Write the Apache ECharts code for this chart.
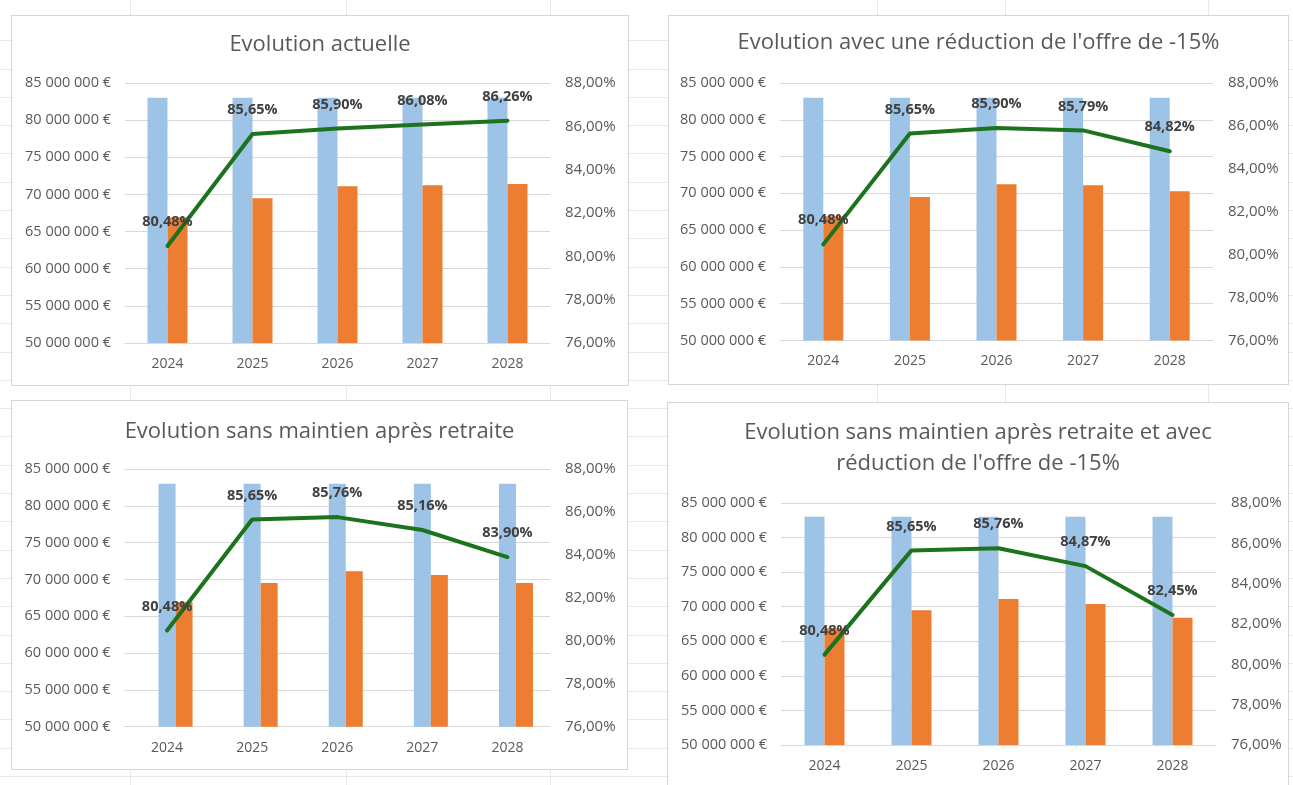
<!DOCTYPE html>
<html>
<head>
<meta charset="utf-8">
<script src="https://cdn.jsdelivr.net/npm/echarts@6/dist/echarts.min.js"></script>
<style>
html,body{margin:0;padding:0;width:1293px;height:785px;overflow:hidden;background:#fff;}
.sheet{position:absolute;left:0;top:0;width:1293px;height:785px;
  background-image:repeating-linear-gradient(to bottom, transparent 0px, transparent 27.3px, #e8e8e8 27.3px, #e8e8e8 28.3px);
  background-position:0 13px;}
.col{position:absolute;top:0;width:1px;height:785px;background:#e8e8e8;}
.frame{position:absolute;border:1px solid #d5d5d5;background:#fff;box-sizing:border-box;}
.frame>div{position:absolute;left:0;top:0;right:0;bottom:0;}
</style>
</head>
<body>
<div class="sheet"></div>
<div class="col" style="left:130px"></div>
<div class="col" style="left:346px"></div>
<div class="col" style="left:550px"></div>
<div class="col" style="left:877px"></div>
<div class="col" style="left:1005px"></div>
<div class="col" style="left:1208px"></div>

<div class="frame" style="left:11px;top:15px;width:618px;height:371px"><div id="c1"></div></div>
<div class="frame" style="left:668px;top:15px;width:621px;height:370px"><div id="c2"></div></div>
<div class="frame" style="left:11px;top:400px;width:617px;height:370px"><div id="c3"></div></div>
<div class="frame" style="left:667px;top:402px;width:622px;height:390px"><div id="c4"></div></div>

<script>
// ---- data ----
const years = ['2024', '2025', '2026', '2027', '2028'];

const titleA = 'Evolution actuelle';
const titleB = "Evolution avec une réduction de l'offre de -15%";
const titleC = 'Evolution sans maintien après retraite';
const titleD = "Evolution sans maintien après retraite et avec\nréduction de l'offre de -15%";

const bleuA = [83000000, 83000000, 83000000, 83000000, 83000000];
const orangeA = [66900000, 69500000, 71100000, 71250000, 71400000];
const tauxA = [80.48, 85.65, 85.90, 86.08, 86.26];

const bleuB = [83000000, 83000000, 83000000, 83000000, 83000000];
const orangeB = [66900000, 69500000, 71250000, 71100000, 70300000];
const tauxB = [80.48, 85.65, 85.90, 85.79, 84.82];

const bleuC = [83000000, 83000000, 83000000, 83000000, 83000000];
const orangeC = [66900000, 69500000, 71100000, 70600000, 69500000];
const tauxC = [80.48, 85.65, 85.76, 85.16, 83.90];

const bleuD = [83000000, 83000000, 83000000, 83000000, 83000000];
const orangeD = [66900000, 69500000, 71100000, 70400000, 68400000];
const tauxD = [80.48, 85.65, 85.76, 84.87, 82.45];

const EUR_MIN = 50000000, EUR_MAX = 85000000, EUR_STEP = 5000000;
const PCT_MIN = 76, PCT_MAX = 88, PCT_STEP = 2;

// ---- styling ----
const FONT = 'Open Sans';
const BLUE = '#9DC3E6';
const ORANGE = '#ED7D31';
const GREEN = '#1D731D';
const TXT = '#595959';
const GRID = '#D9D9D9';

function fmtEur(v) {
  return String(Math.round(v)).replace(/\B(?=(\d{3})+(?!\d))/g, ' ') + ' €';
}
function fmtPct(v) {
  return Number(v).toFixed(2).replace('.', ',') + '%';
}

function makeOption(title, titleTop, grid, bleu, orange, taux, barW, padSlot) {
  const series = [];
  if (padSlot) {
    series.push({ type: 'bar', name: 'vide', data: [], barWidth: barW, barGap: '0%', yAxisIndex: 0 });
  }
  series.push({
    type: 'bar', name: 'bleu', data: bleu, yAxisIndex: 0,
    barWidth: barW, barGap: '0%', itemStyle: { color: BLUE }
  });
  series.push({
    type: 'bar', name: 'orange', data: orange, yAxisIndex: 0,
    barWidth: barW, barGap: '0%', itemStyle: { color: ORANGE }
  });
  series.push({
    type: 'line', name: 'taux', data: taux, yAxisIndex: 1, z: 5,
    symbol: 'circle', symbolSize: 3, itemStyle: { color: GREEN },
    lineStyle: { color: GREEN, width: 4, join: 'round', cap: 'round' },
    label: {
      show: true, position: 'top', distance: 15,
      formatter: p => fmtPct(p.value),
      fontFamily: FONT, fontWeight: 'bold', fontSize: 14.5, color: '#404040'
    }
  });
  return {
    animation: false,
    textStyle: { fontFamily: FONT },
    title: {
      text: title, left: 'center', top: titleTop, padding: 0,
      textStyle: { fontFamily: FONT, fontSize: 22, fontWeight: 'normal', color: TXT, lineHeight: 31 }
    },
    grid: grid,
    xAxis: {
      type: 'category', data: years,
      axisLine: { show: true, lineStyle: { color: GRID, width: 1 } },
      axisTick: { show: false },
      axisLabel: { color: TXT, fontSize: 14, fontFamily: FONT, margin: 14 }
    },
    yAxis: [
      {
        type: 'value', min: EUR_MIN, max: EUR_MAX, interval: EUR_STEP,
        axisLine: { show: false }, axisTick: { show: false },
        splitLine: { show: true, lineStyle: { color: GRID, width: 1 } },
        axisLabel: { color: TXT, fontSize: 14.5, fontFamily: FONT, margin: 14, formatter: fmtEur }
      },
      {
        type: 'value', min: PCT_MIN, max: PCT_MAX, interval: PCT_STEP, position: 'right',
        axisLine: { show: false }, axisTick: { show: false },
        splitLine: { show: false },
        axisLabel: { color: TXT, fontSize: 15, fontFamily: FONT, margin: 15, formatter: fmtPct }
      }
    ],
    series: series
  };
}

const cfgs = [
  ['c1', titleA, 13.5, { left: 113, top: 67, width: 425, height: 260 }, bleuA, orangeA, tauxA, 20, false],
  ['c2', titleB, 11.5, { left: 111, top: 67, width: 433, height: 257.5 }, bleuB, orangeB, tauxB, 20, false],
  ['c3', titleC, 15, { left: 112.5, top: 68, width: 425.5, height: 257.7 }, bleuC, orangeC, tauxC, 17, true],
  ['c4', titleD, 14.5, { left: 113, top: 100, width: 435, height: 242 }, bleuD, orangeD, tauxD, 20, false]
];

cfgs.forEach(c => {
  const chart = echarts.init(document.getElementById(c[0]), null, { renderer: 'canvas' });
  chart.setOption(makeOption(c[1], c[2], c[3], c[4], c[5], c[6], c[7], c[8]));
});
</script>
</body>
</html>
